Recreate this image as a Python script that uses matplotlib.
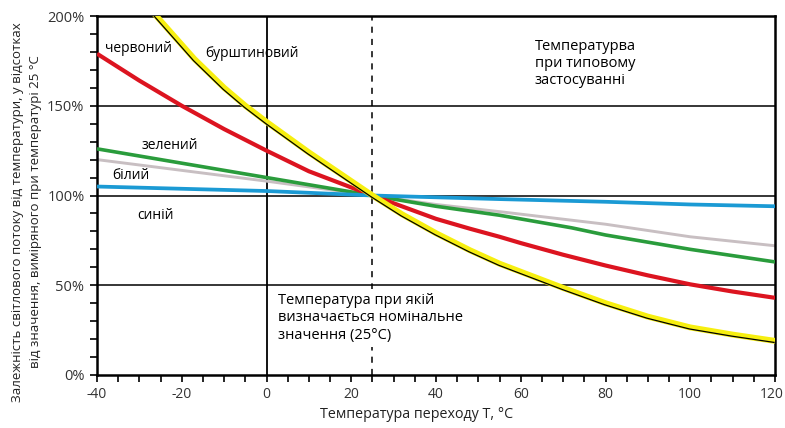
import matplotlib
matplotlib.use("Agg")
import matplotlib.pyplot as plt
from matplotlib.ticker import MultipleLocator, FuncFormatter
import matplotlib.transforms as mtrans

plt.rcParams['font.family'] = ['Open Sans', 'DejaVu Sans']
plt.rcParams['axes.unicode_minus'] = False

# Data (relative luminous flux, % of value at 25 °C)
red_t = [-40, -30, -20, -10, 0, 10, 25, 40, 48, 55, 60, 70, 80, 90, 100, 110, 120]
red_v = [179, 164, 150, 137, 125, 113.5, 100, 87, 81.5, 77, 73.5, 67, 61, 55.5, 50.5, 46.5, 43]

amber_t = [-30, -26, -20, -17, -10, -5, 0, 10, 25, 32, 40, 48, 55, 60, 70, 80, 90, 100, 110, 120]
amber_v = [211, 200, 184, 176, 160, 150, 141, 124, 100, 89.5, 79, 69.5, 62, 57.5, 48.5, 40, 32.5, 26.5, 22.5, 19]

green_t = [-40, -20, 0, 25, 40, 55, 72, 80, 100, 120]
green_v = [126, 118, 110, 100, 94, 89, 82, 78, 70, 63]

white_t = [-40, -20, 0, 25, 40, 55, 80, 100, 120]
white_v = [120, 114, 108, 100, 95, 91, 84, 77, 72]

blue_t = [-40, 0, 25, 55, 80, 100, 120]
blue_v = [105, 102.5, 100, 98, 96.5, 95, 94]

x_ticks = [-40, -20, 0, 20, 40, 60, 80, 100, 120]
y_ticks = [0, 50, 100, 150, 200]

fig = plt.figure(figsize=(7.85, 4.28), dpi=100)
ax = fig.add_axes([97/785, 53/428, 678/785, 359/428])

ax.set_xlim(-40, 120)
ax.set_ylim(0, 200)

# reference lines
for yv in [50, 100, 150]:
    ax.axhline(yv, color='black', lw=1.1, zorder=1)
ax.axvline(0, color='black', lw=1.3, zorder=1)
ax.axvline(25, color='black', lw=1.1, ls=(0, (4, 4)), zorder=1)

ax.plot(white_t, white_v, color='#c8bfc2', lw=2.1, zorder=2, solid_capstyle='butt')
ax.plot(green_t, green_v, color='#2a9c3c', lw=2.6, zorder=3, solid_capstyle='butt')
ax.plot(red_t, red_v, color='#dc1420', lw=3.0, zorder=4, solid_capstyle='butt')
ax.plot(blue_t, blue_v, color='#1b9ad4', lw=2.7, zorder=5, solid_capstyle='butt')
ax.plot(amber_t, amber_v, color='#f7ef10', lw=4.3, zorder=6, solid_capstyle='butt')
off = mtrans.offset_copy(ax.transData, fig=fig, x=-1.0, y=-1.5, units='dots')
ax.plot(amber_t, amber_v, color='black', lw=0.9, zorder=7, transform=off)

ax.xaxis.set_minor_locator(MultipleLocator(5))
ax.yaxis.set_minor_locator(MultipleLocator(10))
ax.set_xticks(x_ticks)
ax.set_yticks(y_ticks)
ax.yaxis.set_major_formatter(FuncFormatter(lambda v, p: f"{int(v)}%"))
ax.tick_params(which='both', direction='out', length=5, width=1.2, color='black',
               labelsize=10, labelcolor='#333333', pad=4)
ax.tick_params(axis='y', labelsize=10.5)
for s in ax.spines.values():
    s.set_linewidth(1.8)
    s.set_color('black')

# keep the last x tick label inside the figure
last = ax.get_xticklabels()[-1]
last.set_horizontalalignment('right')
last.set_transform(last.get_transform() + mtrans.ScaledTranslation(9/100, 0, fig.dpi_scale_trans))

# curve labels
ax.text(-38.1, 182, 'червоний', fontsize=10, ha='left', va='center')
ax.text(-14.5, 179, 'бурштиновий', fontsize=10, ha='left', va='center')
ax.text(-29.5, 128, 'зелений', fontsize=10, ha='left', va='center')
ax.text(-36.3, 111, 'білий', fontsize=10, ha='left', va='center')
ax.text(-30.6, 89, 'синій', fontsize=10, ha='left', va='center')

ax.text(63.3, 173.5, 'Температурва\nпри типовому\nзастосуванні', fontsize=10.5,
        ha='left', va='center', linespacing=1.2, zorder=8,
        bbox=dict(boxstyle='square,pad=0.3', fc='white', ec='none'))
ax.text(2.7, 31.8, 'Температура при якій\nвизначається номінальне\nзначення (25°C)', fontsize=10.5,
        ha='left', va='center', linespacing=1.2, zorder=8,
        bbox=dict(boxstyle='square,pad=0.3', fc='white', ec='none'))

fig.text(417/785, 1 - 414/428, 'Температура переходу T, °C', fontsize=10.3,
         ha='center', va='center', color='#222222')
fig.text(26.5/785, 0.505,
         'Залежність світлового потоку від температури, у відсотках\nвід значення, виміряного при температурі 25 °C',
         rotation=90, fontsize=9.5, ha='center', va='center', color='#222222', linespacing=1.5)

fig.savefig('out.png', dpi=100)
